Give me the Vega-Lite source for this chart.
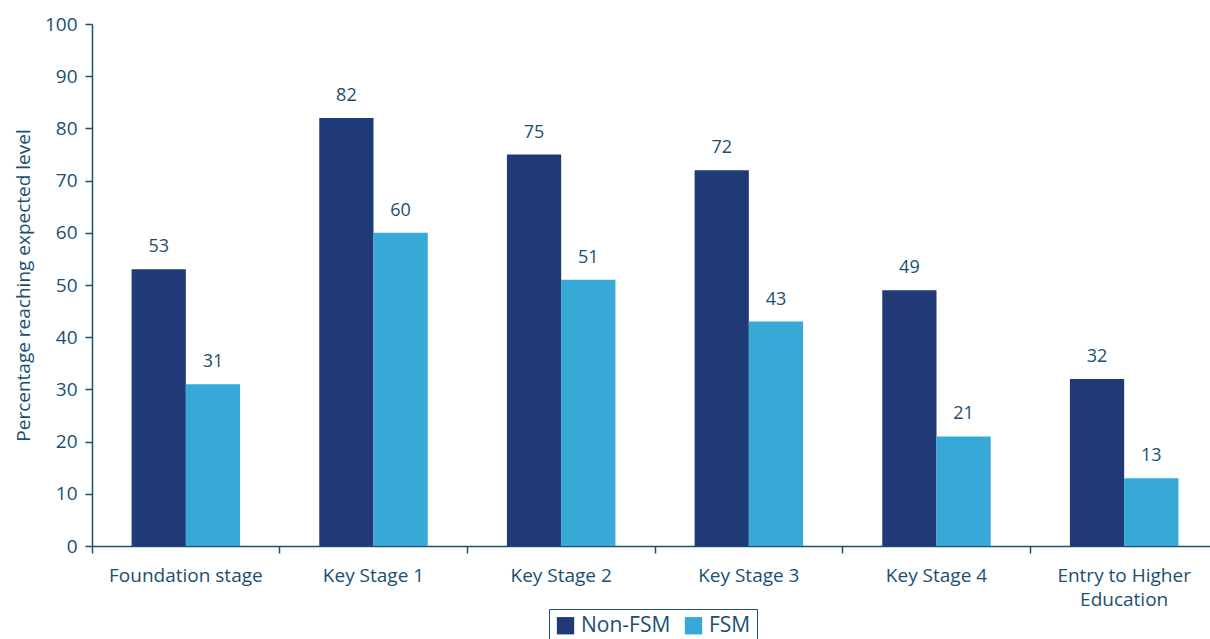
{
  "$schema": "https://vega.github.io/schema/vega-lite/v6.json",
  "autosize": "none",
  "width": 1126,
  "height": 522,
  "padding": {"left": 92, "top": 24, "right": -8, "bottom": 93},
  "config": {
    "view": {"stroke": null},
    "font": "Open Sans",
    "axis": {"domainColor": "#1b4f72", "tickColor": "#1b4f72", "labelColor": "#1b4f72", "titleColor": "#1b4f72", "grid": false, "labelFont": "Open Sans", "titleFont": "Open Sans", "domainWidth": 1.5, "tickWidth": 1.5, "labelOverlap": false}
  },
  "data": {
    "values": [
      {"stage": "Foundation stage", "group": "Non-FSM", "value": 53},
      {"stage": "Foundation stage", "group": "FSM", "value": 31},
      {"stage": "Key Stage 1", "group": "Non-FSM", "value": 82},
      {"stage": "Key Stage 1", "group": "FSM", "value": 60},
      {"stage": "Key Stage 2", "group": "Non-FSM", "value": 75},
      {"stage": "Key Stage 2", "group": "FSM", "value": 51},
      {"stage": "Key Stage 3", "group": "Non-FSM", "value": 72},
      {"stage": "Key Stage 3", "group": "FSM", "value": 43},
      {"stage": "Key Stage 4", "group": "Non-FSM", "value": 49},
      {"stage": "Key Stage 4", "group": "FSM", "value": 21},
      {"stage": "Entry to Higher Education", "group": "Non-FSM", "value": 32},
      {"stage": "Entry to Higher Education", "group": "FSM", "value": 13}
    ]
  },
  "encoding": {
    "x": {
      "field": "stage", "type": "nominal", "sort": null,
      "scale": {"paddingInner": 0, "paddingOuter": 0},
      "axis": {"title": null, "labelAngle": 0, "bandPosition": 0, "tickSize": 7, "labelFontSize": 19, "labelPadding": 13,
        "labelExpr": "datum.value == 'Entry to Higher Education' ? ['Entry to Higher', 'Education'] : datum.value",
        "labelLineHeight": 24}
    },
    "xOffset": {"field": "group", "type": "nominal", "sort": ["Non-FSM", "FSM"], "scale": {"paddingInner": 0, "paddingOuter": 0.73}},
    "y": {
      "field": "value", "type": "quantitative",
      "scale": {"domain": [0, 100], "nice": false},
      "axis": {"title": "Percentage reaching expected level", "values": [0,10,20,30,40,50,60,70,80,90,100], "tickSize": 7, "labelFontSize": 19, "labelPadding": 8, "titleFontSize": 19, "titleFontWeight": "normal", "titlePadding": 11}
    }
  },
  "layer": [
    {
      "mark": {"type": "bar"},
      "encoding": {
        "color": {
          "field": "group", "type": "nominal", "sort": ["Non-FSM", "FSM"],
          "scale": {"domain": ["Non-FSM", "FSM"], "range": ["#1f3a77", "#36a9d6"]},
          "legend": {"title": null, "orient": "none", "direction": "horizontal", "legendX": 457, "legendY": 585,
            "symbolType": "square", "symbolSize": 300, "symbolStrokeWidth": 0, "labelFontSize": 21, "labelColor": "#1b4f72",
            "strokeColor": "#1b4f72", "padding": 6, "columnPadding": 12, "labelOffset": 5, "labelFont": "Open Sans"}
        }
      }
    },
    {
      "mark": {"type": "text", "dy": -13, "baseline": "bottom", "fontSize": 18, "color": "#1b4f72"},
      "encoding": {"text": {"field": "value", "type": "quantitative"}}
    }
  ]
}
